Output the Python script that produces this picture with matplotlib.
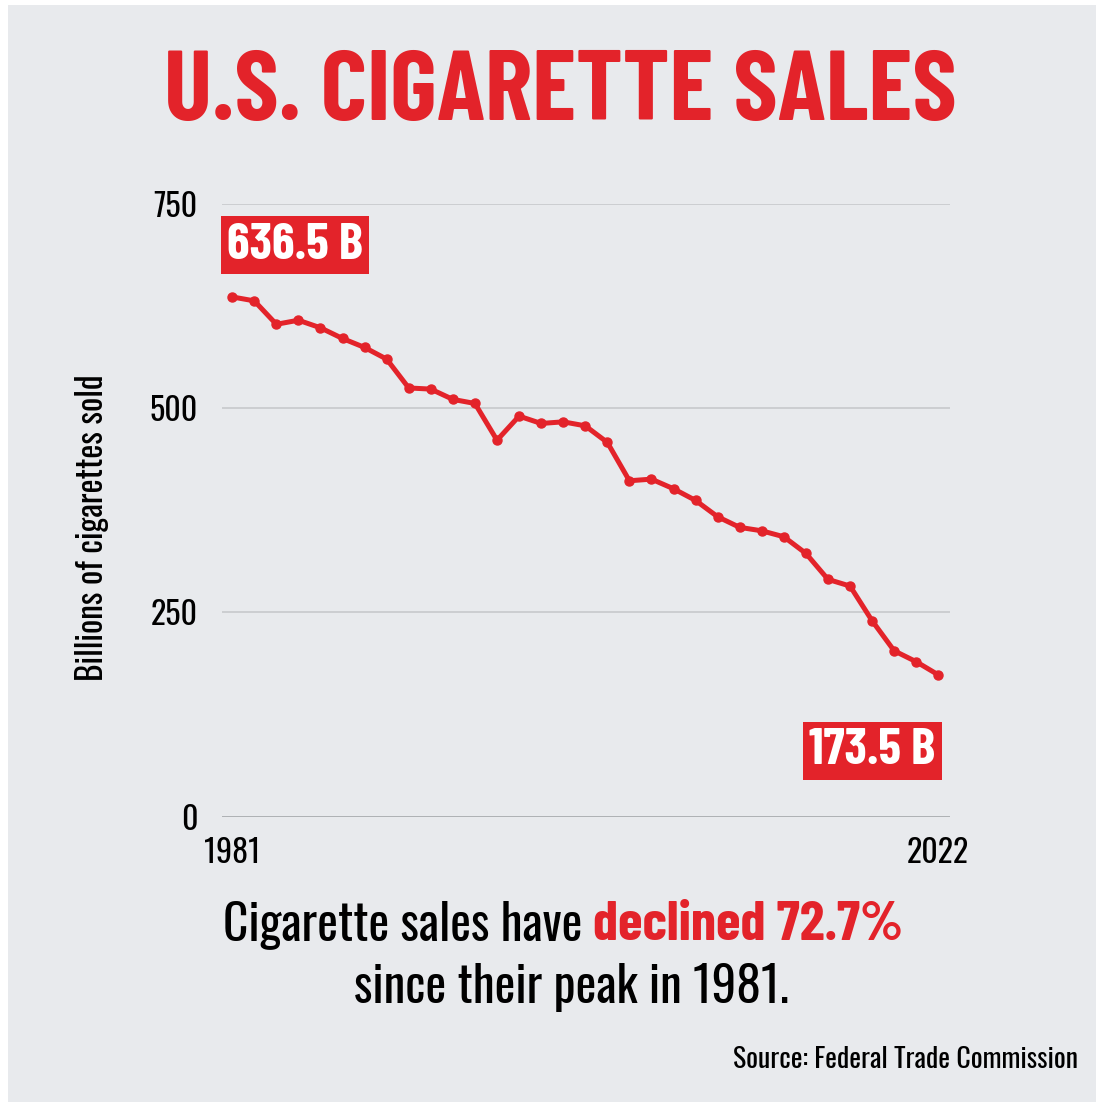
import os
import matplotlib
matplotlib.use("Agg")
import matplotlib.pyplot as plt
from matplotlib import font_manager as fm
from matplotlib.font_manager import FontProperties
from matplotlib.patches import Rectangle

# Cigarettes sold, billions, one point per reported year
sales = [636.5, 631.7, 603.0, 608.0, 598.7, 585.6, 574.6, 560.3, 525.0, 523.6,
         511.0, 506.0, 461.0, 490.5, 481.5, 483.5, 478.6, 458.3, 411.3, 413.3,
         401.5, 387.2, 367.2, 354.2, 350.0, 342.7, 322.3, 290.5, 282.3, 239.8,
         203.0, 189.6, 173.5]
year_labels = ["1981", "2022"]
y_ticks = [0, 250, 500, 750]
peak_label = "636.5 B"
last_label = "173.5 B"

title = "U.S. CIGARETTE SALES"
ylabel = "Billions of cigarettes sold"
caption_1 = [("Cigarette sales have", "black"), ("declined 72.7%", "red")]
caption_2 = "since their peak in 1981."
source = "Source: Federal Trade Commission"

RED = "#E3232A"
BG = "#E8EAED"
W, H = 1096, 1102

# the original uses a narrow grotesque (Oswald-like), pick files directly
stems = {}
for f in fm.fontManager.ttflist:
    stems.setdefault(os.path.splitext(os.path.basename(f.fname))[0].lower(), f.fname)

def font_file(*names):
    for n in names:
        if n.lower() in stems:
            return stems[n.lower()]
    return None

heavy_path = font_file("BarlowCondensed-Bold", "RobotoCondensed-Bold")
bold_path = font_file("BarlowCondensed-Bold", "RobotoCondensed-Bold")
reg_path = font_file("Oswald[wght]", "BarlowCondensed-Regular", "RobotoCondensed-Regular")

def fprop(path, size, weight="normal"):
    if path:
        return FontProperties(fname=path, size=size)
    return FontProperties(family="DejaVu Sans", weight=weight, size=size)

fig = plt.figure(figsize=(W / 100, H / 100), dpi=100)
fig.patch.set_facecolor("white")
fig.patches.append(Rectangle((8 / W, 0), 1 - 8 / W, 1 - 5 / H, transform=fig.transFigure,
                             facecolor=BG, edgecolor="none", zorder=-10))

ax = fig.add_axes([222.3 / W, 1 - 816.5 / H, (950 - 222.3) / W, (816.5 - 204.3) / H])
ax.set_facecolor("none")
x = list(range(len(sales)))
ax.plot(x, sales, color=RED, lw=3.6, marker="o", ms=6.5, zorder=3)

ax.set_xlim(-0.45, len(sales) - 1 + 0.53)
ax.set_ylim(0, 750)
ax.set_yticks(y_ticks)
ax.set_yticklabels([str(v) for v in y_ticks], fontproperties=fprop(reg_path, 23))
ax.set_xticks([0, len(sales) - 1])
ax.set_xticklabels(year_labels, fontproperties=fprop(reg_path, 23))
ax.tick_params(length=0)
ax.tick_params(axis="y", pad=18)
ax.tick_params(axis="x", pad=15)
for s in ax.spines.values():
    s.set_visible(False)
for v in y_ticks[1:]:
    ax.axhline(v, color="#C9CCCF", lw=1.3, zorder=1)
ax.axhline(0, color="#A9ACAF", lw=2, zorder=1)

ax.set_ylabel(ylabel, fontproperties=fprop(reg_path, 24), va="center")
ax.yaxis.set_label_coords(-0.179, 0.471)

box = dict(boxstyle="square,pad=0.12", facecolor=RED, edgecolor="none")
ax.annotate(peak_label, xy=(0, sales[0]), xytext=(45, 37.4), textcoords="offset points",
            ha="center", va="center", color="white", fontproperties=fprop(bold_path, 37, "bold"),
            bbox=box)
ax.annotate(last_label, xy=(len(sales) - 1, sales[-1]), xytext=(-47.5, -54.7),
            textcoords="offset points", ha="center", va="center", color="white",
            fontproperties=fprop(bold_path, 37, "bold"), bbox=box)

fig.text(560 / W, 1 - 120 / H, title, ha="center", va="baseline", color=RED,
         fontproperties=fprop(heavy_path, 72, "bold"))

# first caption line mixes black and bold red, so lay the runs out side by side
r = fig.canvas.get_renderer()
runs = []
for s, c in caption_1:
    if c == "red":
        p = fprop(bold_path, 40.5, "bold")
    else:
        p = fprop(reg_path, 35.5)
    runs.append(fig.text(0, 1 - 940 / H, s, ha="left", va="baseline",
                         color=RED if c == "red" else "black", fontproperties=p))
probe = fig.text(0, 0, "x x", fontproperties=fprop(reg_path, 35.5))
probe2 = fig.text(0, 0, "xx", fontproperties=fprop(reg_path, 35.5))
gap = probe.get_window_extent(r).width - probe2.get_window_extent(r).width
probe.remove()
probe2.remove()
widths = [t.get_window_extent(r).width for t in runs]
total = sum(widths) + gap * (len(runs) - 1)
cx = 563 - total / 2
for t, w in zip(runs, widths):
    t.set_x(cx / W)
    cx += w + gap

fig.text(571 / W, 1 - 1003 / H, caption_2, ha="center", va="baseline", color="black",
         fontproperties=fprop(reg_path, 35.5))
fig.text(1078 / W, 1 - 1068 / H, source, ha="right", va="baseline", color="black",
         fontproperties=fprop(reg_path, 20))

fig.savefig("out.png", dpi=100, facecolor=fig.get_facecolor())
